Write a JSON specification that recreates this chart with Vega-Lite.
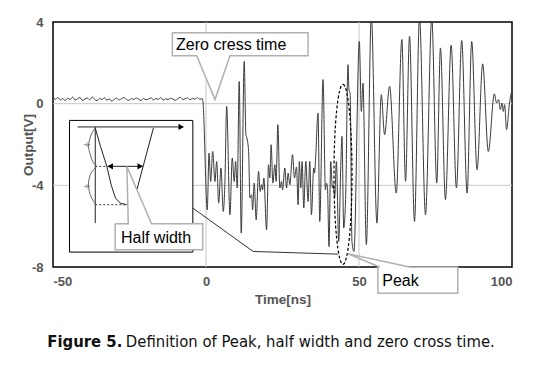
{
  "$schema": "https://vega.github.io/schema/vega-lite/v6.json",
  "autosize": "none",
  "width": 459,
  "height": 245,
  "padding": {"left": 53, "top": 22, "right": 41, "bottom": 98},
  "background": "white",
  "config": {
    "view": {"stroke": "#000", "strokeWidth": 1.5},
    "axis": {"labelFont": "Liberation Sans", "labelFontWeight": "bold", "labelFontSize": 13, "labelColor": "#555", "titleFont": "Liberation Sans", "titleFontWeight": "bold", "titleFontSize": 13.5, "titleColor": "#555", "ticks": false, "domain": false, "grid": false}
  },
  "datasets": {
    "grid": [
      {"t": 0, "t2": 0, "v": -8, "v2": 4},
      {"t": 50, "t2": 50, "v": -8, "v2": 4},
      {"t": -50, "t2": 100, "v": 0, "v2": 0},
      {"t": -50, "t2": 100, "v": -4, "v2": -4}
    ],
    "wave": [
      {"t":-50,"v":0.28},{"t":-49.2,"v":0.22},{"t":-48.4,"v":0.3},{"t":-47.6,"v":0.18},{"t":-46.8,"v":0.25},{"t":-46,"v":0.15},{"t":-45.2,"v":0.27},{"t":-44.4,"v":0.2},{"t":-43.6,"v":0.32},{"t":-42.8,"v":0.17},
      {"t":-42,"v":0.24},{"t":-41.2,"v":0.3},{"t":-40.4,"v":0.16},{"t":-39.6,"v":0.22},{"t":-38.8,"v":0.28},{"t":-38,"v":0.19},{"t":-37.2,"v":0.33},{"t":-36.4,"v":0.21},{"t":-35.6,"v":0.14},{"t":-34.8,"v":0.26},
      {"t":-34,"v":0.2},{"t":-33.2,"v":0.29},{"t":-32.4,"v":0.17},{"t":-31.6,"v":0.23},{"t":-30.8,"v":0.12},{"t":-30,"v":0.2},{"t":-29.2,"v":0.27},{"t":-28.4,"v":0.18},{"t":-27.6,"v":0.24},{"t":-26.8,"v":0.3},
      {"t":-26,"v":0.21},{"t":-25.2,"v":0.16},{"t":-24.4,"v":0.25},{"t":-23.6,"v":0.2},{"t":-22.8,"v":0.28},{"t":-22,"v":0.22},{"t":-21.2,"v":0.15},{"t":-20.4,"v":0.26},{"t":-19.6,"v":0.19},{"t":-18.8,"v":0.23},
      {"t":-18,"v":0.29},{"t":-17.2,"v":0.18},{"t":-16.4,"v":0.25},{"t":-15.6,"v":0.21},{"t":-14.8,"v":0.3},{"t":-14,"v":0.17},{"t":-13.2,"v":0.24},{"t":-12.4,"v":0.2},{"t":-11.6,"v":0.27},{"t":-10.8,"v":0.22},
      {"t":-10,"v":0.16},{"t":-9.2,"v":0.25},{"t":-8.4,"v":0.31},{"t":-7.6,"v":0.2},{"t":-6.8,"v":0.24},{"t":-6,"v":0.28},{"t":-5.2,"v":0.19},{"t":-4.4,"v":0.26},{"t":-3.6,"v":0.22},{"t":-2.8,"v":0.3},
      {"t":-2,"v":0.21},{"t":-1.2,"v":0.25},{"t":-1.0,"v":0.1},{"t":0.42,"v":-5.2},
      {"t":0.98,"v":-2.42},{"t":1.53,"v":-3.81},{"t":2.18,"v":-2.34},{"t":2.93,"v":-3.81},{"t":3.49,"v":-2.83},{"t":4.14,"v":-4.87},{"t":4.89,"v":-3.15},{"t":5.64,"v":-5.28},{"t":6.19,"v":-3.81},{"t":6.75,"v":-0.13},
      {"t":7.83,"v":-5.44},{"t":8.58,"v":-2.66},{"t":9.23,"v":-3.81},{"t":9.68,"v":-2.83},{"t":10.21,"v":-4.13},{"t":10.86,"v":1.09},{"t":11.51,"v":-6.34},{"t":12.49,"v":2.07},{"t":13.04,"v":-1.52},{"t":13.37,"v":-1.68},
      {"t":13.92,"v":-2.34},{"t":14.35,"v":-4.62},{"t":14.9,"v":-4.46},{"t":15.23,"v":-5.2},{"t":15.75,"v":-3.89},{"t":16.4,"v":-5.69},{"t":17.18,"v":-3.32},{"t":17.7,"v":-4.3},{"t":18.16,"v":-3.97},{"t":18.49,"v":-4.22},
      {"t":18.91,"v":-3.64},{"t":19.79,"v":-6.18},{"t":20.44,"v":-2.99},{"t":20.87,"v":-3.64},{"t":21.29,"v":-2.01},{"t":21.85,"v":-3.89},{"t":22.5,"v":-2.99},{"t":22.92,"v":-3.81},{"t":23.48,"v":-1.03},{"t":24.13,"v":-4.13},
      {"t":24.68,"v":-3.81},{"t":25.01,"v":-4.22},{"t":25.76,"v":-3.15},{"t":26.31,"v":-4.13},{"t":26.83,"v":-3.4},{"t":27.39,"v":-3.97},{"t":28.27,"v":-2.5},{"t":28.92,"v":-3.64},{"t":29.57,"v":-3.1},{"t":30.1,"v":-4.95},
      {"t":30.5,"v":-2.83},{"t":30.98,"v":-4.13},{"t":31.4,"v":-2.83},{"t":31.95,"v":-5.11},{"t":32.61,"v":-2.83},{"t":33.36,"v":-4.79},{"t":33.91,"v":-2.83},{"t":34.46,"v":-5.44},{"t":35.21,"v":-3.15},{"t":35.5,"v":-3.4},
      {"t":35.77,"v":-2.83},{"t":36.62,"v":-0.46},{"t":37.17,"v":-5.77},{"t":38.25,"v":1.18},{"t":39.03,"v":-4.22},{"t":39.4,"v":-3.9},{"t":39.7,"v":-4.1},{"t":40.2,"v":-7.0},{"t":40.76,"v":-2.83},{"t":41.31,"v":-4.13},
      {"t":41.6,"v":-3.97},{"t":42.06,"v":-4.62},{"t":42.61,"v":-2.83},{"t":43.37,"v":-6.75},{"t":44.0,"v":-3.3},{"t":44.44,"v":-1.6},{"t":45.0,"v":-6.09},{"t":45.65,"v":-4.5},{"t":46.4,"v":1.91},{"t":46.72,"v":0.69},
      {"t":47.1,"v":0.5},{"t":47.7,"v":-6.75},{"t":48.35,"v":-7.24},{"t":50.11,"v":3.05},{"t":50.77,"v":-0.38},{"t":51.29,"v":1.01},{"t":52.4,"v":-6.9},{"t":54.03,"v":4.3},{"t":55.85,"v":-5.85},{"t":57.29,"v":0.44},
      {"t":58.36,"v":-1.52},{"t":59.99,"v":0.85},{"t":62.18,"v":-4.38},{"t":64.0,"v":3.14},{"t":65.21,"v":-3.8},{"t":66.51,"v":3.3},{"t":68.14,"v":-5.77},{"t":69.77,"v":4.2},{"t":71.73,"v":-5.44},{"t":73.78,"v":4.2},
      {"t":75.41,"v":-3.89},{"t":76.62,"v":2.73},{"t":78.25,"v":-4.7},{"t":80.11,"v":2.86},{"t":81.84,"v":-4.13},{"t":83.57,"v":3.09},{"t":85.33,"v":-4.38},{"t":86.83,"v":3.05},{"t":88.59,"v":-3.24},{"t":90.41,"v":1.95},
      {"t":92.27,"v":-2.34},{"t":94.23,"v":0.48},{"t":94.98,"v":0.03},{"t":95.63,"v":0.2},{"t":96.19,"v":-0.29},{"t":96.74,"v":0.03},{"t":97.16,"v":-0.38},{"t":97.59,"v":-0.05},{"t":98.24,"v":-1.27},{"t":99.12,"v":-0.05},
      {"t":99.77,"v":0.52},{"t":100,"v":0.6}
    ],
    "conn": [
      {"id":"conn","i":0,"t":-4.34,"v":-5.11},{"id":"conn","i":1,"t":15.42,"v":-7.24},{"id":"conn","i":2,"t":43.14,"v":-7.37}
    ],
    "inset": [{"t": -44.6, "t2": -4.3, "v": -0.82, "v2": -7.27}],
    "segs": [
      {"id":"top","i":0,"t":-41.96,"v":-1.14},{"id":"top","i":1,"t":-7.5,"v":-1.14},
      {"id":"axis","i":0,"t":-36.19,"v":-1.14},{"id":"axis","i":1,"t":-36.19,"v":-5.85},
      {"id":"cl","i":0,"t":-36.19,"v":-1.19},{"id":"cl","i":1,"t":-34.5,"v":-2.09},{"id":"cl","i":2,"t":-32.4,"v":-3.07},{"id":"cl","i":3,"t":-31.0,"v":-3.97},{"id":"cl","i":4,"t":-29.6,"v":-4.62},{"id":"cl","i":5,"t":-28.04,"v":-4.87},{"id":"cl","i":6,"t":-25.86,"v":-4.95},
      {"id":"cr","i":0,"t":-22.6,"v":-4.22},{"id":"cr","i":1,"t":-17.18,"v":-1.19},
      {"id":"da","i":0,"t":-32.2,"v":-3.07},{"id":"da","i":1,"t":-20.6,"v":-3.07}
    ],
    "dashed": [
      {"id":"d1","i":0,"t":-36.19,"v":-3.07},{"id":"d1","i":1,"t":-32.4,"v":-3.07},
      {"id":"d2","i":0,"t":-36.19,"v":-4.95},{"id":"d2","i":1,"t":-25.86,"v":-4.95}
    ],
    "arcs": [
      {"id":"u","i":0,"t":-36.19,"v":-1.19},{"id":"u","i":1,"t":-37.27,"v":-1.44},{"id":"u","i":2,"t":-38.05,"v":-1.76},{"id":"u","i":3,"t":-38.38,"v":-2.09},{"id":"u","i":4,"t":-37.82,"v":-2.5},{"id":"u","i":5,"t":-36.75,"v":-2.91},{"id":"u","i":6,"t":-35.64,"v":-3.07},
      {"id":"l","i":0,"t":-35.64,"v":-3.07},{"id":"l","i":1,"t":-37.27,"v":-3.32},{"id":"l","i":2,"t":-38.15,"v":-3.64},{"id":"l","i":3,"t":-38.38,"v":-4.05},{"id":"l","i":4,"t":-37.82,"v":-4.46},{"id":"l","i":5,"t":-36.75,"v":-4.79},{"id":"l","i":6,"t":-35.86,"v":-4.95}
    ],
    "ticks": [{"t": -38.9, "v": -2.01}, {"t": -38.9, "v": -4.05}],
    "heads": [
      {"t": -8.1, "v": -1.14, "shape": "triangle-right"},
      {"t": -31.3, "v": -3.07, "shape": "triangle-left"},
      {"t": -21.5, "v": -3.07, "shape": "triangle-right"}
    ],
    "ellipse": [{"t": 44.77, "v": -3.46}],
    "boxes": [
      {"id":"zc","t":-10.99,"t2":33.36,"v":2.35,"v2":3.47},
      {"id":"hw","t":-29.67,"t2":-1.08,"v":-7.16,"v2":-5.88},
      {"id":"pk","t":56.18,"t2":82.27,"v":-9.28,"v2":-8.0}
    ],
    "ptr": [
      {"id":"zc","v":2.36,"t":-3.03,"t2":7.83},{"id":"zc","v":0.2,"t":2.93,"t2":2.93},
      {"id":"hw","v":-5.87,"t":-25.4,"t2":-17.8},{"id":"hw","v":-3.08,"t":-25.85,"t2":-25.85},
      {"id":"pk","v":-8.0,"t":56.73,"t2":66.5},{"id":"pk","v":-7.35,"t":46.4,"t2":46.4}
    ],
    "outl": [
      {"id":"zc","i":0,"t":-10.99,"v":3.47},{"id":"zc","i":1,"t":33.36,"v":3.47},{"id":"zc","i":2,"t":33.36,"v":2.35},{"id":"zc","i":3,"t":7.83,"v":2.35},{"id":"zc","i":4,"t":2.93,"v":0.2},{"id":"zc","i":5,"t":-3.03,"v":2.35},{"id":"zc","i":6,"t":-10.99,"v":2.35},{"id":"zc","i":7,"t":-10.99,"v":3.47},
      {"id":"hw","i":0,"t":-29.67,"v":-5.88},{"id":"hw","i":1,"t":-25.4,"v":-5.88},{"id":"hw","i":2,"t":-25.85,"v":-3.08},{"id":"hw","i":3,"t":-17.8,"v":-5.88},{"id":"hw","i":4,"t":-1.08,"v":-5.88},{"id":"hw","i":5,"t":-1.08,"v":-7.16},{"id":"hw","i":6,"t":-29.67,"v":-7.16},{"id":"hw","i":7,"t":-29.67,"v":-5.88},
      {"id":"pk","i":0,"t":56.18,"v":-8.0},{"id":"pk","i":1,"t":56.73,"v":-8.0},{"id":"pk","i":2,"t":46.4,"v":-7.35},{"id":"pk","i":3,"t":66.5,"v":-8.0},{"id":"pk","i":4,"t":82.27,"v":-8.0},{"id":"pk","i":5,"t":82.27,"v":-9.28},{"id":"pk","i":6,"t":56.18,"v":-9.28},{"id":"pk","i":7,"t":56.18,"v":-8.0}
    ],
    "labels": [
      {"label": "Zero cress time", "t": -9.78, "v": 2.89},
      {"label": "Half width", "t": -27.8, "v": -6.57},
      {"label": "Peak", "t": 57.6, "v": -8.68}
    ],
    "capBold": [{"label": "Figure 5.", "t": -51.84, "v": -11.65}],
    "capReg": [{"label": "Definition of Peak, half width and zero cross time.", "t": -26.2, "v": -11.65}]
  },
  "encoding": {
    "x": {"field": "t", "type": "quantitative", "scale": {"domain": [-50, 100], "nice": false, "zero": false}, "axis": {"values": [-50, 0, 50, 100], "title": "Time[ns]", "labelPadding": 8, "titlePadding": 4, "labelExpr": "datum.value < 0 ? '-' + abs(datum.value) : '' + datum.value"}},
    "y": {"field": "v", "type": "quantitative", "scale": {"domain": [-8, 4], "nice": false, "zero": false}, "axis": {"values": [-8, -4, 0, 4], "title": "Output[V]", "labelPadding": 10, "titlePadding": -4, "labelExpr": "datum.value < 0 ? '-' + abs(datum.value) : '' + datum.value"}}
  },
  "layer": [
    {"data": {"name": "grid"}, "mark": {"type": "rule", "color": "#c8c8c8", "strokeWidth": 1}, "encoding": {"x2": {"field": "t2"}, "y2": {"field": "v2"}}},
    {"data": {"name": "wave"}, "mark": {"type": "line", "color": "#3a3a3a", "strokeWidth": 1, "interpolate": "monotone", "clip": true}, "encoding": {}},
    {"data": {"name": "conn"}, "mark": {"type": "line", "color": "#333", "strokeWidth": 1}, "encoding": {"order": {"field": "i"}}},
    {"data": {"name": "inset"}, "mark": {"type": "rect", "fill": "white", "stroke": "#000", "strokeWidth": 1}, "encoding": {"x2": {"field": "t2"}, "y2": {"field": "v2"}}},
    {"data": {"name": "segs"}, "mark": {"type": "line", "color": "#222", "strokeWidth": 1}, "encoding": {"detail": {"field": "id"}, "order": {"field": "i"}}},
    {"data": {"name": "dashed"}, "mark": {"type": "line", "color": "#333", "strokeWidth": 1, "strokeDash": [2, 2]}, "encoding": {"detail": {"field": "id"}, "order": {"field": "i"}}},
    {"data": {"name": "arcs"}, "mark": {"type": "line", "color": "#666", "strokeWidth": 1, "interpolate": "catmull-rom"}, "encoding": {"detail": {"field": "id"}, "order": {"field": "i"}}},
    {"data": {"name": "ticks"}, "mark": {"type": "point", "shape": "M-1,0H1M0,-0.7V0.7", "size": 40, "stroke": "#666", "strokeWidth": 1, "filled": false}, "encoding": {}},
    {"data": {"name": "heads"}, "mark": {"type": "point", "filled": true, "color": "#000", "size": 40, "opacity": 1}, "encoding": {"shape": {"field": "shape", "type": "nominal", "scale": null}}},
    {"data": {"name": "ellipse"}, "mark": {"type": "point", "shape": "M0,-1A0.1,1,0,1,1,0,1A0.1,1,0,1,1,0,-1Z", "size": 32400, "filled": false, "stroke": "#000", "strokeWidth": 1.2, "strokeDash": [3, 2], "opacity": 1}, "encoding": {}},
    {"data": {"name": "boxes"}, "mark": {"type": "rect", "fill": "white", "strokeWidth": 0}, "encoding": {"x2": {"field": "t2"}, "y2": {"field": "v2"}}},
    {"data": {"name": "ptr"}, "mark": {"type": "area", "orient": "horizontal", "color": "white", "opacity": 1}, "encoding": {"x2": {"field": "t2"}, "detail": {"field": "id"}}},
    {"data": {"name": "outl"}, "mark": {"type": "line", "color": "#b0b0b0", "strokeWidth": 1.5}, "encoding": {"detail": {"field": "id"}, "order": {"field": "i"}}},
    {"data": {"name": "labels"}, "mark": {"type": "text", "align": "left", "baseline": "middle", "font": "Liberation Sans", "fontSize": 16, "color": "#000"}, "encoding": {"text": {"field": "label"}}},
    {"data": {"name": "capBold"}, "mark": {"type": "text", "align": "left", "baseline": "middle", "font": "DejaVu Sans Condensed, Roboto, sans-serif", "fontWeight": "bold", "fontSize": 16.5, "color": "#111"}, "encoding": {"text": {"field": "label"}}},
    {"data": {"name": "capReg"}, "mark": {"type": "text", "align": "left", "baseline": "middle", "font": "DejaVu Sans Condensed, Roboto, sans-serif", "fontSize": 16.5, "color": "#111"}, "encoding": {"text": {"field": "label"}}}
  ]
}
